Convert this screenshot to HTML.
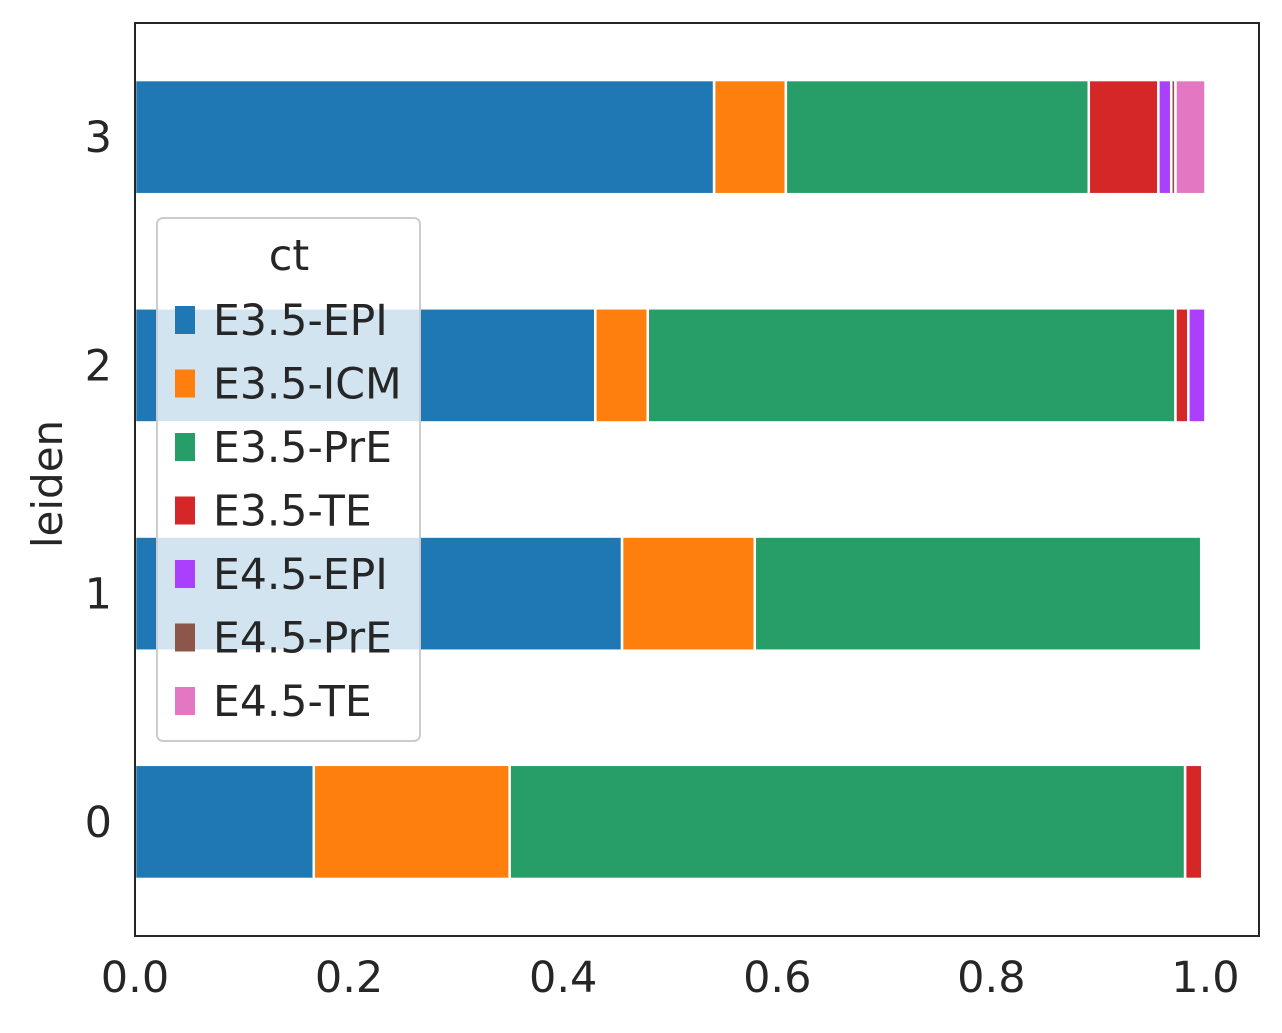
<!DOCTYPE html>
<html><head><meta charset="utf-8"><style>
body{margin:0;background:#fff;}
svg text{font-family:"DejaVu Sans","Liberation Sans",sans-serif;fill:#262626;}
</style></head><body>
<svg id="chart" width="1282" height="1028" xmlns="http://www.w3.org/2000/svg">
<rect x="0" y="0" width="1282" height="1028" fill="#fff"/>
<g id="bars"></g>
<rect x="135" y="23" width="1124" height="913" fill="none" stroke="#262626" stroke-width="2"/>
<g id="ticks"></g>
<text x="62" y="484" font-size="42" text-anchor="middle" transform="rotate(-90 62 484)">leiden</text>
<g id="legend"></g>
</svg>
<script>
const categories = ["0","1","2","3"];
const seriesNames = ["E3.5-EPI","E3.5-ICM","E3.5-PrE","E3.5-TE","E4.5-EPI","E4.5-PrE","E4.5-TE"];
const colors = ["#1f77b4","#ff7f0e","#279e68","#d62728","#aa40fc","#8c564b","#e377c2"];
const s_E35EPI = [0.167,0.455,0.430,0.541];
const s_E35ICM = [0.183,0.124,0.049,0.067];
const s_E35PrE = [0.631,0.417,0.493,0.283];
const s_E35TE  = [0.016,0.000,0.012,0.065];
const s_E45EPI = [0.000,0.000,0.016,0.012];
const s_E45PrE = [0.000,0.000,0.000,0.004];
const s_E45TE  = [0.000,0.000,0.000,0.028];
const series = [s_E35EPI,s_E35ICM,s_E35PrE,s_E35TE,s_E45EPI,s_E45PrE,s_E45TE];
const xTicks = [0,0.2,0.4,0.6,0.8,1.0];
const xTickLabels = ["0.0","0.2","0.4","0.6","0.8","1.0"];

const NS="http://www.w3.org/2000/svg";
const X0=135,X1=1259,XMIN=0,XMAX=1.05, YT=23, YB=936, YMIN=-0.5, YMAX=3.5;
const xs=v=>X0+(v-XMIN)/(XMAX-XMIN)*(X1-X0);
const ys=v=>YB-(v-YMIN)/(YMAX-YMIN)*(YB-YT);
const bandH=(YB-YT)/(YMAX-YMIN)*0.5;
function mk(tag,attrs,parent){const e=document.createElementNS(NS,tag);for(const k in attrs)e.setAttribute(k,attrs[k]);parent.appendChild(e);return e;}
const bars=document.getElementById('bars');
categories.forEach((c,i)=>{
  let acc=0;
  series.forEach((s,j)=>{
    const v=s[i];
    if(v>0){
      const r=mk('rect',{x:xs(acc),y:ys(i)-bandH/2,width:xs(acc+v)-xs(acc),height:bandH,fill:colors[j],stroke:'#fff','stroke-width':2.5},bars);
      
      
    }
    acc+=v;
  });
});
const ticks=document.getElementById('ticks');
xTicks.forEach((t,i)=>{
  const tx=mk('text',{x:xs(t),y:992,'font-size':43,'text-anchor':'middle'},ticks);
  tx.textContent=xTickLabels[i];
  
  
});
categories.forEach((c,i)=>{
  const tx=mk('text',{x:112,y:ys(i)+15,'font-size':43,'text-anchor':'end'},ticks);
  tx.textContent=c;
  
  
});
const lg=document.getElementById('legend');
mk('rect',{x:157,y:218,width:263,height:523,rx:6,fill:'#fff','fill-opacity':0.8,stroke:'#ccc','stroke-width':2},lg);
const lt=mk('text',{x:289,y:270,'font-size':43,'text-anchor':'middle'},lg);
lt.textContent='ct';


seriesNames.forEach((n,j)=>{
  const y=320+j*63.5;
  const sw=mk('rect',{x:175,y:y-14,width:20,height:28,fill:colors[j]},lg);
  
  
  const t=mk('text',{x:213,y:y+15,'font-size':42.5},lg);
  t.textContent=n;
  
  
});
</script>
</body></html>
